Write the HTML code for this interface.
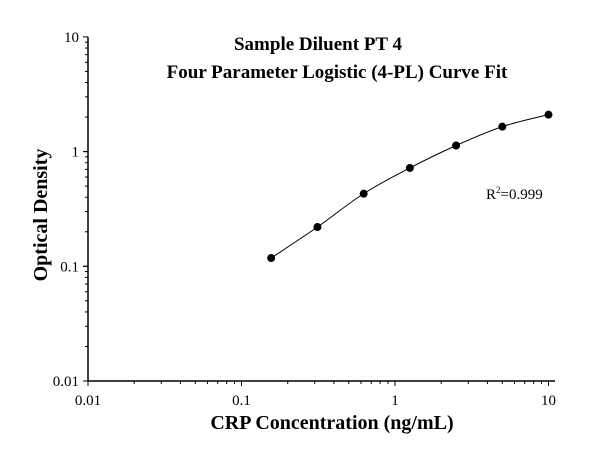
<!DOCTYPE html>
<html><head><meta charset="utf-8"><style>
body{margin:0;background:#fff}
svg text{font-family:"Liberation Serif",serif;fill:#000}
</style></head><body>
<svg width="603" height="452" id="c">
<text x="318" y="50" font-size="19" font-weight="bold" text-anchor="middle">Sample Diluent PT 4</text>
<text x="337" y="78" font-size="19" font-weight="bold" text-anchor="middle">Four Parameter Logistic (4-PL) Curve Fit</text>
<text x="486" y="199" font-size="15">R<tspan dy="-6" font-size="9">2</tspan><tspan dy="6">=0.999</tspan></text>
<text transform="translate(47,215) rotate(-90)" font-size="20" font-weight="bold" text-anchor="middle">Optical Density</text>
<text x="332" y="429" font-size="20" font-weight="bold" text-anchor="middle">CRP Concentration (ng/mL)</text>
<g id="axes"></g><g id="marks"></g>
</svg>
<script>
const xConc=[0.156,0.3125,0.625,1.25,2.5,5,10];
const yOD=[0.118,0.22,0.43,0.72,1.13,1.65,2.1];
const xTicks=[0.01,0.1,1,10];
const yTicks=[0.01,0.1,1,10];
const xTickLabels=["0.01","0.1","1","10"];
const yTickLabels=["0.01","0.1","1","10"];
const NS="http://www.w3.org/2000/svg";
const X=v=>88+153.5*(Math.log10(v)+2);
const Y=v=>381-114.7*(Math.log10(v)+2);
function mk(t,a,p){const e=document.createElementNS(NS,t);for(const k in a)e.setAttribute(k,a[k]);p.appendChild(e);return e;}
const ax=document.getElementById('axes'),mg=document.getElementById('marks');
let l=mk('line',{x1:88,y1:381,x2:555,y2:381,stroke:'#000','stroke-width':1.5},ax);


l=mk('line',{x1:88,y1:37,x2:88,y2:381,stroke:'#000','stroke-width':1.5},ax);


for(let d=0;d<3;d++)for(let m=1;m<=10;m++){
 const v=Math.pow(10,d-2)*m, xp=X(v), yp=Y(v), big=m==1||m==10;
 mk('line',{x1:xp,y1:381,x2:xp,y2:381+(big?5:3),stroke:'#000','stroke-width':1},ax);
 mk('line',{x1:88,y1:yp,x2:88-(big?5:3),y2:yp,stroke:'#000','stroke-width':1},ax);
}
xTicks.forEach((v,i)=>{const t=mk('text',{x:X(v),y:405,'font-size':15,'text-anchor':'middle'},ax);t.textContent=xTickLabels[i];

});
yTicks.forEach((v,i)=>{const t=mk('text',{x:79,y:Y(v)+5,'font-size':15,'text-anchor':'end'},ax);t.textContent=yTickLabels[i];

});
const P=xConc.map((v,i)=>[X(v),Y(yOD[i])]);
let d='M'+P[0][0]+','+P[0][1];
for(let i=0;i<P.length-1;i++){const p0=P[i-1]||P[i],p1=P[i],p2=P[i+1],p3=P[i+2]||P[i+1];
 d+=` C${p1[0]+(p2[0]-p0[0])/6},${p1[1]+(p2[1]-p0[1])/6} ${p2[0]-(p3[0]-p1[0])/6},${p2[1]-(p3[1]-p1[1])/6} ${p2[0]},${p2[1]}`;}
const c=mk('path',{d:d,fill:'none',stroke:'#000','stroke-width':1},mg);


P.forEach(p=>{const e=mk('circle',{cx:p[0],cy:p[1],r:4,fill:'#000'},mg);

});
</script>
</body></html>
